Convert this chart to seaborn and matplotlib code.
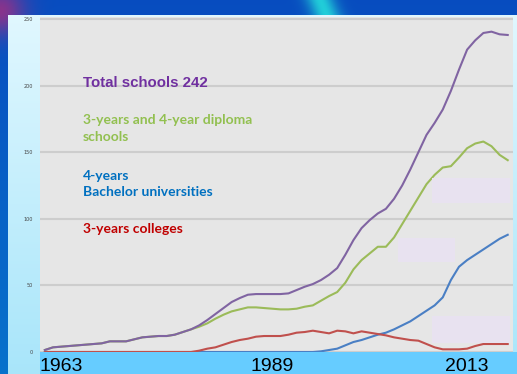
import numpy as np
import pandas as pd
import matplotlib
matplotlib.use("Agg")
import matplotlib.pyplot as plt
import seaborn as sns
from matplotlib.patches import Rectangle

# ---------------- data ----------------
years = list(range(1961, 2019))
total = [1.5, 3.5, 4, 4.5, 5, 5.5, 6, 6.5, 8, 8, 8, 9.5, 11, 11.5, 12, 12, 13, 15, 17, 20,
         24, 28.5, 33, 37.5, 40.5, 43, 43.5, 43.5, 43.5, 43.5, 44, 46.5, 49, 51, 54, 58, 63, 73, 84, 93,
         99, 104, 107.5, 115, 125, 137, 150, 163, 172, 182, 196, 212, 227, 234, 239.5, 240.5, 238.5, 238]
diploma = [1.5, 3.5, 4, 4.5, 5, 5.5, 6, 6.5, 8, 8, 8, 9.5, 11, 11.5, 12, 12, 13, 15,
           17, 19, 21.5, 25, 28, 30.5, 32, 33.5, 33.5, 33, 32.5, 32, 32, 32.5, 34, 35, 38.5, 42, 45, 52,
           62, 69, 74, 79, 79, 86, 96, 106, 116, 126, 133, 138.5, 139.5, 146, 153, 156.5, 158, 154.5, 148, 144]
bachelor = [0] * 34 + [0.5, 1.5, 2.5, 5, 7.5, 9, 11, 13, 14.5, 17, 20, 23, 27, 31, 35, 41, 54, 64,
                       69, 73, 77, 81, 85, 88]
colleges = [0] * 19 + [1, 2.5, 3.5, 5.5, 7.5, 9, 10, 11.5, 12, 12, 12, 13, 14.5, 15, 16, 15, 14, 16, 15.5,
                       14, 15.5, 14.5, 13.5, 12.5, 11, 10, 9, 8.5, 6, 3.5, 2, 2, 2, 2.5, 4.5, 6, 6, 6, 6]
series_names = ["bachelor", "colleges", "diploma", "total"]
series_colors = ["#4a7fc4", "#c0504d", "#9bbb59", "#8064a2"]
y_ticks = [0, 50, 100, 150, 200, 250]
x_tick_years = [1963, 1989, 2013]

labels = [("Total schools 242", "#7030a0", ["Liberation Sans", "DejaVu Sans"]),
          ("3-years and 4-year diploma\nschools", "#92c050", ["Lato", "DejaVu Sans"]),
          ("4-years\nBachelor universities", "#0070c0", ["Lato", "DejaVu Sans"]),
          ("3-years colleges", "#c00000", ["Lato", "DejaVu Sans"])]

df = pd.DataFrame({"year": years * 4,
                   "value": bachelor + colleges + diploma + total,
                   "series": sum([[n] * len(years) for n in series_names], [])})

# ---------------- figure ----------------
W, H = 517, 374
fig = plt.figure(figsize=(W / 100, H / 100), dpi=100)

# decorative background
yy, xx = np.mgrid[0:H, 0:W]
bg = np.zeros((H, W, 3))
bg[..., 0] = 0.03
bg[..., 1] = 0.30 + 0.15 * (yy / H)
bg[..., 2] = 0.75 + 0.05 * (yy / H)
streak = np.exp(-((xx - 0.4 * yy - 320) / 14.0) ** 2) * (yy < 15)
bg[..., 0] += 0.1 * streak
bg[..., 1] += 0.5 * streak
bg[..., 2] += 0.1 * streak
mag = np.exp(-((xx) ** 2 + (yy - 10) ** 2) / 600.0)
bg[..., 0] += 0.5 * mag
bg[..., 1] -= 0.1 * mag
bg[..., 2] -= 0.2 * mag
panel = (xx >= 8) & (yy >= 15)
t = (yy - 15) / (H - 15)
bg[..., 0] = np.where(panel, 0.88 - 0.22 * t, bg[..., 0])
bg[..., 1] = np.where(panel, 0.97 - 0.07 * t, bg[..., 1])
bg[..., 2] = np.where(panel, 1.00 - 0.02 * t, bg[..., 2])
strip = (xx >= 40) & (yy >= 352)
bg[strip] = [0.40, 0.80, 1.0]
bg = np.clip(bg, 0, 1)
bgax = fig.add_axes([0, 0, 1, 1], zorder=-5)
bgax.imshow(bg, aspect="auto", interpolation="bilinear")
bgax.axis("off")

# main axes
left, right, top, bottom = 40, 513, 17, 352
ax = fig.add_axes([left / W, 1 - bottom / H, (right - left) / W, (bottom - top) / H])
ax.set_facecolor("#e6e6e6")

sns.lineplot(data=df, x="year", y="value", hue="series", hue_order=series_names,
             palette=series_colors, linewidth=1.5, legend=False, ax=ax)

ax.set_xlim(1960.4, 2018.65)
ax.set_ylim(0, 251.5)
ax.set_yticks(y_ticks)
ax.set_yticklabels([str(v) for v in y_ticks], fontsize=3.5, color="#444444")
ax.set_xticks(x_tick_years)
ax.set_xticklabels([str(v) for v in x_tick_years], fontsize=14,
                   family=["Liberation Sans", "DejaVu Sans"], color="black")
ax.tick_params(axis="both", length=0)
ax.tick_params(axis="x", pad=4.5)
ax.tick_params(axis="y", pad=5)
ax.set_xlabel("")
ax.set_ylabel("")
for s in ax.spines.values():
    s.set_visible(False)
ax.grid(axis="y", color="#cdcdcd", linewidth=1.5)
ax.set_axisbelow(True)

# text labels
pos = [(83, 83, 10.8), (83, 128.5, 10), (83, 184, 10), (83, 229, 10)]
for (txt, col, fam), (px, py, fs) in zip(labels, pos):
    fig.text(px / W, 1 - py / H, txt, color=col, fontsize=fs, fontweight="bold",
             family=fam, va="center", ha="left", linespacing=1.45)

# lavender overlay boxes
for (x0, y0, x1, y1) in [(432, 178, 510, 203), (398, 238, 455, 262), (432, 316, 510, 343)]:
    fig.patches.append(Rectangle((x0 / W, 1 - y1 / H), (x1 - x0) / W, (y1 - y0) / H,
                                 transform=fig.transFigure, facecolor="#e8e2f0",
                                 edgecolor="none", zorder=3))

fig.savefig("out.png", dpi=100)
